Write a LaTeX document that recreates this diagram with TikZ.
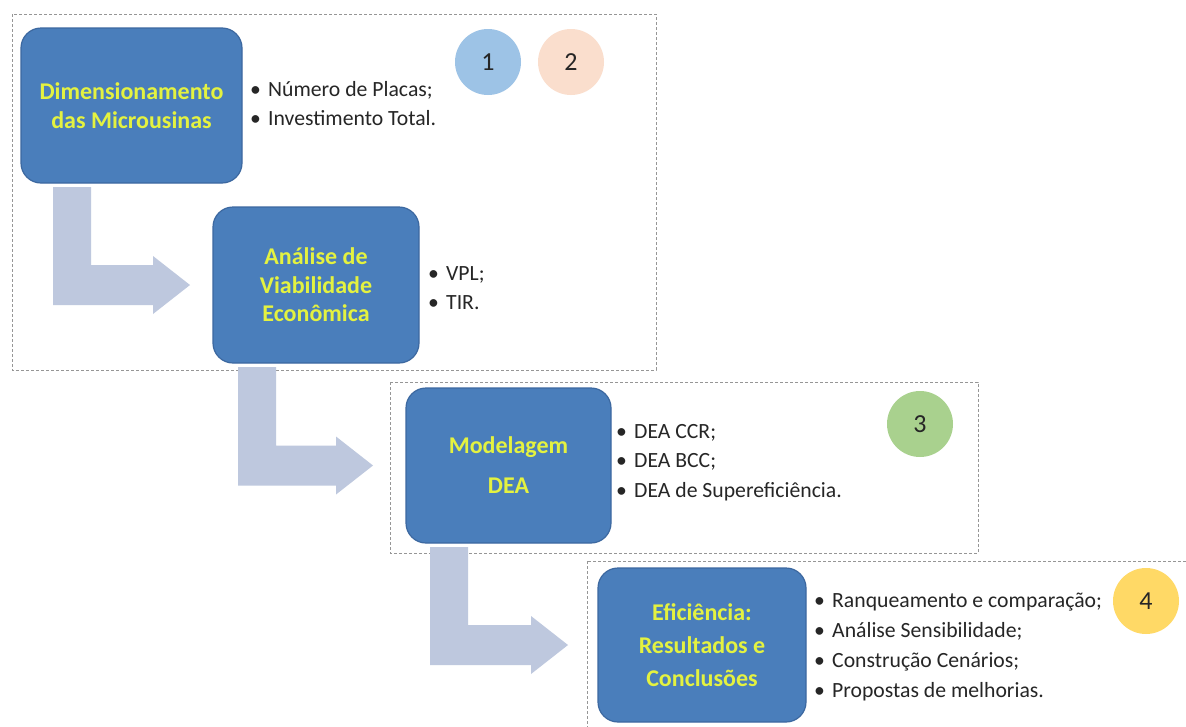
\documentclass[tikz,border=0pt]{standalone}
\usepackage{fontspec}
\setmainfont{Carlito}
\usetikzlibrary{calc}
\definecolor{boxblue}{RGB}{74,126,187}
\definecolor{boxedge}{RGB}{60,104,160}
\definecolor{boxtext}{RGB}{228,242,64}
\definecolor{arrowfill}{RGB}{190,200,222}
\definecolor{dashgray}{RGB}{150,150,150}
\definecolor{bullettext}{RGB}{38,38,38}
\definecolor{cone}{RGB}{157,195,230}
\definecolor{ctwo}{RGB}{250,222,205}
\definecolor{cthree}{RGB}{169,209,142}
\definecolor{cfour}{RGB}{255,217,102}
\newcommand\bitem[1]{\makebox[18pt][l]{•}#1}
\newcommand\larrow[4]{%
  \fill[blockarrow] let \p1=(#1.south west), \p2=(#2.west) in
    (\x1+#3pt,\y1-4pt) -- (\x1+#3pt+38pt,\y1-4pt) -- (\x1+#3pt+38pt,\y2+20pt)
    -- (\x2-#4pt-37pt,\y2+20pt) -- (\x2-#4pt-37pt,\y2+29pt) -- (\x2-#4pt,\y2)
    -- (\x2-#4pt-37pt,\y2-29pt) -- (\x2-#4pt-37pt,\y2-20pt) -- (\x1+#3pt,\y2-20pt) -- cycle;}
\begin{document}
\begin{tikzpicture}[x=1pt,y=-1pt,
  stepbox/.style={draw=boxedge, line width=1.2pt, fill=boxblue, rounded corners=20pt,
    inner sep=0pt, outer sep=0pt, align=center, text=boxtext},
  dashbox/.style={draw=dashgray, line width=0.8pt, dash pattern=on 3pt off 2pt},
  bul/.style={anchor=base west, inner sep=0pt, text=bullettext, font=\fontsize{21.7}{25}\selectfont},
  numc/.style={circle, minimum size=66pt, inner sep=0pt, font=\fontsize{26}{30}\selectfont, text=black!85},
  blockarrow/.style={fill=arrowfill}
]
\useasboundingbox (0,0) rectangle (1186,726);
\clip (0,0) rectangle (1186,726);
\fill[white] (0,0) rectangle (1186,726);

% dashed group frames
\draw[dashbox] (12,14) rectangle (656,370);
\draw[dashbox] (390,382) rectangle (978,553);
\draw[dashbox] (587,561) rectangle (1200,740);

% process boxes
\node[stepbox, minimum width=221pt, minimum height=155pt,
  font=\bfseries\fontsize{24}{29}\selectfont] (b1) at (131.5,105.5)
  {Dimensionamento\\das Microusinas};
\node[stepbox, minimum width=206pt, minimum height=156pt,
  font=\bfseries\fontsize{24}{28.5}\selectfont] (b2) at (316,285)
  {Análise de\\Viabilidade\\Econômica};
\node[stepbox, minimum width=205pt, minimum height=155pt,
  font=\bfseries\fontsize{24}{40}\selectfont] (b3) at (508.5,465.5)
  {Modelagem\\DEA};
\node[stepbox, minimum width=208pt, minimum height=154pt,
  font=\bfseries\fontsize{24}{33}\selectfont] (b4) at (702,645)
  {Eficiência:\\Resultados e\\Conclusões};

% block arrows
\larrow{b1}{b2}{32}{23}
\larrow{b2}{b3}{25}{33}
\larrow{b3}{b4}{24}{30}

% bullet lists
\node[bul] (l1a) at (250,96) {\bitem{Número de Placas;}};
\node[bul] (l1b) at (250,125) {\bitem{Investimento Total.}};
\node[bul] (l2a) at (428,280) {\bitem{VPL;}};
\node[bul] (l2b) at (428,309) {\bitem{TIR.}};
\node[bul] (l3a) at (616,438) {\bitem{DEA CCR;}};
\node[bul] (l3b) at (616,467) {\bitem{DEA BCC;}};
\node[bul] (l3c) at (616,497) {\bitem{DEA de Supereficiência.}};
\node[bul] (l4a) at (814,607) {\bitem{Ranqueamento e comparação;}};
\node[bul] (l4b) at (814,637) {\bitem{Análise Sensibilidade;}};
\node[bul] (l4c) at (814,667) {\bitem{Construção Cenários;}};
\node[bul] (l4d) at (814,697) {\bitem{Propostas de melhorias.}};

% numbered circles
\node[numc, fill=cone] (n1) at (488,62) {1};
\node[numc, fill=ctwo] (n2) at (571,62) {2};
\node[numc, fill=cthree] (n3) at (920,424) {3};
\node[numc, fill=cfour] (n4) at (1146,601) {4};
\end{tikzpicture}
\end{document}
